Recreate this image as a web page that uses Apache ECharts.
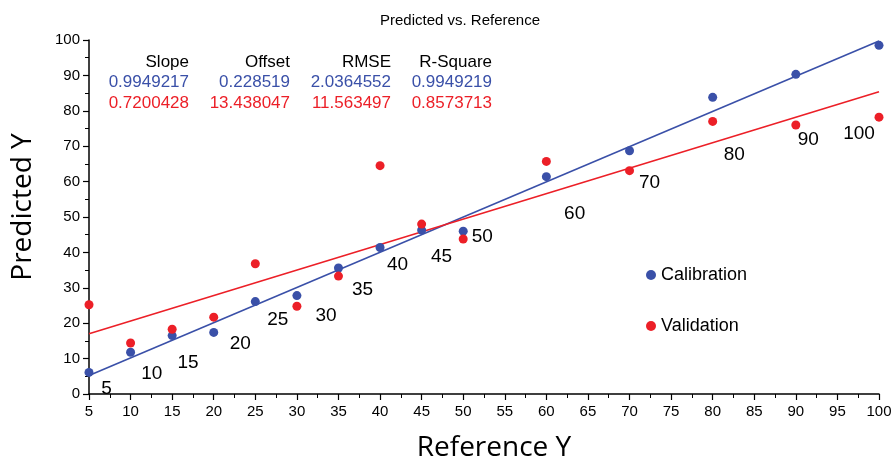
<!DOCTYPE html>
<html>
<head>
<meta charset="utf-8">
<script src="https://cdn.jsdelivr.net/npm/echarts@6/dist/echarts.min.js"></script>
<style>
html,body{margin:0;padding:0;background:#fff;}
#c{width:893px;height:460px;}
</style>
</head>
<body>
<div id="c"></div>
<script>
// ---- data ----
var referenceX = [5, 10, 15, 20, 25, 30, 35, 40, 45, 50, 60, 70, 80, 90, 100];
var calibrationY = [6.1, 11.8, 16.5, 17.4, 26.1, 27.8, 35.6, 41.4, 46.3, 46.0, 61.4, 68.7, 83.8, 90.3, 98.5];
var validationY = [25.2, 14.4, 18.3, 21.7, 36.8, 24.8, 33.3, 64.5, 48.0, 43.8, 65.7, 63.1, 77.0, 76.0, 78.2];

var calibrationFitX = [5, 100];
var calibrationFitY = [5.2, 99.7];
var validationFitX = [5, 100];
var validationFitY = [17.0, 85.4];

var sampleLabelText = ['5', '10', '15', '20', '25', '30', '35', '40', '45', '50', '60', '70', '80', '90', '100'];
var sampleLabelX = [7.1, 12.55, 16.9, 23.2, 27.7, 33.5, 37.9, 42.1, 47.4, 52.3, 63.4, 72.4, 82.6, 91.5, 97.6];
var sampleLabelY = [1.6, 5.8, 8.8, 14.3, 20.9, 22.1, 29.4, 36.4, 38.8, 44.3, 50.8, 59.8, 67.5, 71.9, 73.4];

var statHeaders = ['Slope', 'Offset', 'RMSE', 'R-Square'];
var calibrationStats = ['0.9949217', '0.228519', '2.0364552', '0.9949219'];
var validationStats = ['0.7200428', '13.438047', '11.563497', '0.8573713'];

var titleText = 'Predicted vs. Reference';
var xAxisName = 'Reference Y';
var yAxisName = 'Predicted Y';
var seriesNames = ['Calibration', 'Validation'];

// ---- build ----
var BLUE = '#3a50a8';
var RED = '#ec1f27';
function pairs(xs, ys) { return xs.map(function (x, i) { return [x, ys[i]]; }); }

var statColsRight = [189, 290, 391, 492];
var graphics = [];
statHeaders.forEach(function (h, i) {
  graphics.push({ type: 'text', x: statColsRight[i], y: 62,
    style: { text: h, fill: '#000', font: '17px "Liberation Sans", Arial, sans-serif', textAlign: 'right', textVerticalAlign: 'middle' } });
  graphics.push({ type: 'text', x: statColsRight[i], y: 82.5,
    style: { text: calibrationStats[i], fill: BLUE, font: '17px "Liberation Sans", Arial, sans-serif', textAlign: 'right', textVerticalAlign: 'middle' } });
  graphics.push({ type: 'text', x: statColsRight[i], y: 103.5,
    style: { text: validationStats[i], fill: RED, font: '17px "Liberation Sans", Arial, sans-serif', textAlign: 'right', textVerticalAlign: 'middle' } });
});

var labelData = sampleLabelX.map(function (x, i) { return { value: [x, sampleLabelY[i]], name: sampleLabelText[i] }; });

var chart = echarts.init(document.getElementById('c'), null, { renderer: 'canvas' });
chart.setOption({
  animation: false,
  backgroundColor: '#fff',
  textStyle: { fontFamily: '"Liberation Sans", Arial, sans-serif' },
  title: {
    text: titleText, left: 455, top: 8, textAlign: 'center',
    textStyle: { fontSize: 15, fontWeight: 'normal', color: '#000', fontFamily: '"Liberation Sans", Arial, sans-serif' }
  },
  legend: {
    data: seriesNames.map(function (n) { return { name: n, icon: 'circle' }; }),
    orient: 'vertical', left: 641, top: 261, itemWidth: 10, itemHeight: 10, itemGap: 33,
    textStyle: { fontSize: 18, color: '#000', fontFamily: '"Liberation Sans", Arial, sans-serif' }
  },
  grid: { left: 89, right: 14, top: 40, bottom: 66, containLabel: false, outerBoundsMode: 'none' },
  xAxis: {
    type: 'value', min: 5, max: 100, interval: 5,
    name: xAxisName, nameLocation: 'middle', nameGap: 40,
    nameTextStyle: { fontSize: 28, color: '#000', fontFamily: '"Open Sans", sans-serif', verticalAlign: 'top', padding: [0, 0, 0, 20] },
    axisLine: { show: true, onZero: false, lineStyle: { color: '#000', width: 1.5 } },
    axisTick: { show: true, length: 6, lineStyle: { color: '#000', width: 1.2 } },
    minorTick: { show: true, splitNumber: 2, length: 4, lineStyle: { color: '#000', width: 1 } },
    axisLabel: { fontSize: 15, color: '#000', margin: 10 },
    splitLine: { show: false }
  },
  yAxis: {
    type: 'value', min: 0, max: 100, interval: 10,
    name: yAxisName, nameLocation: 'middle', nameGap: 52, nameRotate: 90,
    nameTextStyle: { fontSize: 28, color: '#000', fontFamily: '"Open Sans", sans-serif', padding: [0, 0, 0, 20] },
    axisLine: { show: true, onZero: false, lineStyle: { color: '#000', width: 1.5 } },
    axisTick: { show: true, length: 6, lineStyle: { color: '#000', width: 1.2 } },
    minorTick: { show: true, splitNumber: 2, length: 4, lineStyle: { color: '#000', width: 1 } },
    axisLabel: { fontSize: 15, color: '#000', margin: 9 },
    splitLine: { show: false }
  },
  graphic: graphics,
  series: [
    { name: seriesNames[0] + ' fit', type: 'line', data: pairs(calibrationFitX, calibrationFitY), symbol: 'none',
      lineStyle: { color: BLUE, width: 1.6 }, itemStyle: { color: BLUE }, silent: true, z: 2 },
    { name: seriesNames[1] + ' fit', type: 'line', data: pairs(validationFitX, validationFitY), symbol: 'none',
      lineStyle: { color: RED, width: 1.6 }, itemStyle: { color: RED }, silent: true, z: 2 },
    { name: seriesNames[0], type: 'scatter', data: pairs(referenceX, calibrationY), symbolSize: 9,
      itemStyle: { color: BLUE, opacity: 1 }, clip: false, z: 3 },
    { name: seriesNames[1], type: 'scatter', data: pairs(referenceX, validationY), symbolSize: 9,
      itemStyle: { color: RED, opacity: 1 }, clip: false, z: 3 },
    { name: 'labels', type: 'scatter', data: labelData, symbolSize: 0, silent: true, clip: false, z: 4,
      itemStyle: { opacity: 1, color: '#000' },
      label: { show: true, position: 'inside', formatter: '{b}', fontSize: 19, color: '#000', opacity: 1 } }
  ]
});
</script>
</body>
</html>
